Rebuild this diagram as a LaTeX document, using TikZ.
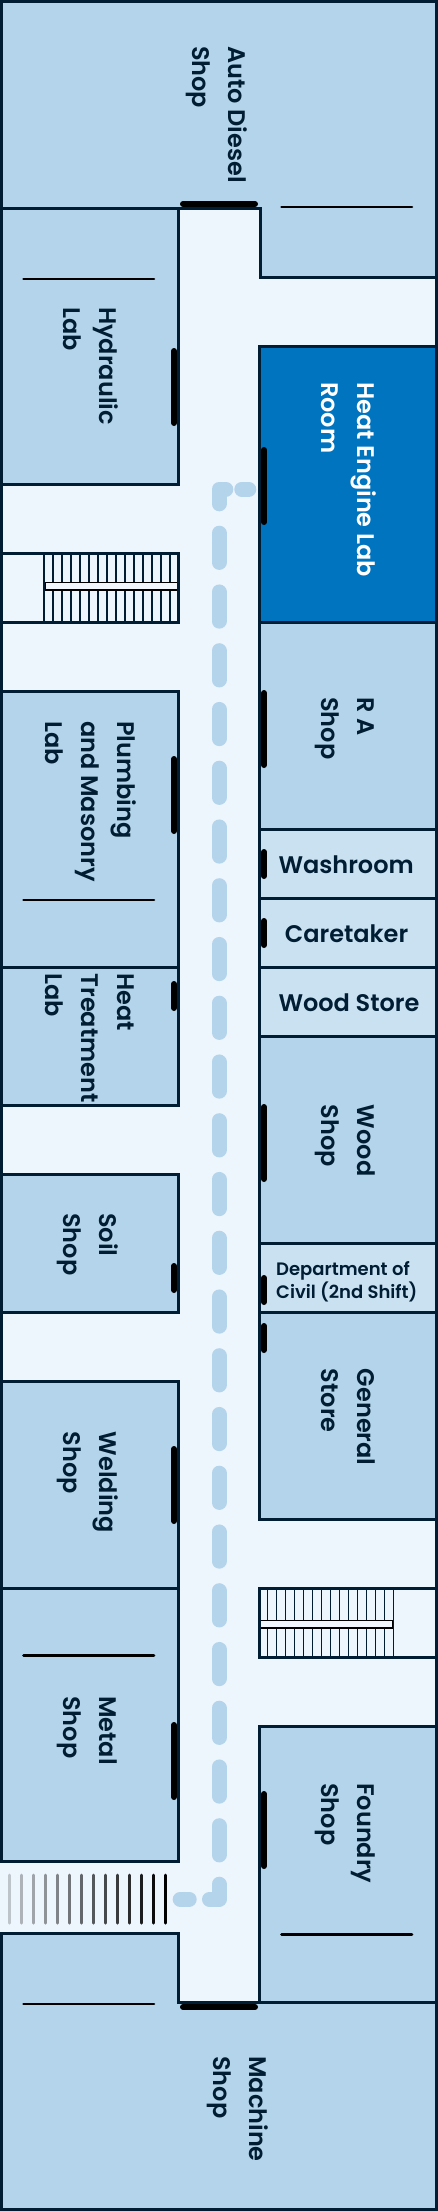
\documentclass[tikz,border=0pt]{standalone}
\usepackage{fontspec}
\setmainfont{Poppins}[UprightFont=* SemiBold]
\definecolor{room}{HTML}{B3D4EA}
\definecolor{lightroom}{HTML}{CAE1F1}
\definecolor{hall}{HTML}{EDF5FD}
\definecolor{hot}{HTML}{0074BF}
\definecolor{ink}{HTML}{001D33}
\newcommand{\fl}{\rule{0pt}{20pt}}
\newcommand{\fs}{\rule{0pt}{14pt}}
\tikzset{
  x=1pt,y=-1pt,
  wall/.style={draw=ink,line width=3pt,miter limit=10},
  doorline/.style={line width=6pt,line cap=round,draw=black},
  bar/.style={line width=2.6pt,line cap=round,draw=black},
  route/.style={line width=15pt,line cap=round,line join=round,draw=room},
  vlabel/.style={rotate=-90,anchor=north west,inner sep=0pt,align=left,text=ink,font=\fontsize{24}{36}\selectfont},
  hlabel/.style={anchor=base west,inner sep=0pt,text=ink,font=\fontsize{24}{36}\selectfont},
  tread/.style={draw=ink,line width=1.2pt},
  landing/.style={draw=black,line width=1.3pt,fill=hall!80!white},
}
\begin{document}
\begin{tikzpicture}
\useasboundingbox (0,0) rectangle (438,2211);
\fill[hall] (0,0) rectangle (438,2211);
% rooms
\fill[room] (0,0) rectangle (438,208.3);
\fill[room] (260.7,208) rectangle (438,277);
\fill[room] (0,208.3) rectangle (178.7,484.3);
\fill[hot] (259.3,346.7) rectangle (438,622.3);
\fill[room] (259.3,622.3) rectangle (438,829.3);
\fill[lightroom] (259.3,829.3) rectangle (438,1036.3);
\fill[room] (259.3,1036.3) rectangle (438,1243.3);
\fill[lightroom] (259.3,1243.3) rectangle (438,1312.3);
\fill[room] (259.3,1312.3) rectangle (438,1519.3);
\fill[room] (259.3,1726.3) rectangle (438,2002.3);
\fill[room] (0,691.3) rectangle (178.7,1105.3);
\fill[room] (0,1174.3) rectangle (178.7,1312.3);
\fill[room] (0,1381.3) rectangle (178.7,1861.3);
\fill[room] (0,1933.3) rectangle (178.7,2211);
\fill[room] (178.7,2002.3) rectangle (438,2211);
% route
\foreach \k in {0,...,22}{
  \draw[route] (219,{533.2+58.75*\k}) -- ++(0,29.2);
}
\draw[route] (225.8,489.2) -- (219,489.2) -- (219,503.8);
\draw[route] (241.8,489.2) -- (248.8,489.2);
\draw[route] (219,1884.2) -- (219,1899.2) -- (209.5,1899.2);
\draw[route] (180.2,1899.2) -- (189.2,1899.2);
% stairs
\foreach \k in {0,...,14}{
  \draw[tread] ({44+9*\k},553.3) -- ({44+9*\k},622.3);
  \draw[tread] ({267.5+9*\k},1588.3) -- ({267.5+9*\k},1657.3);
}
\draw[landing] (45.6,582.7) rectangle (178.8,590);
\draw[landing] (259,1620.7) rectangle (392.4,1628);
% entrance
\foreach \k/\o in {0/0.2,1/0.27,2/0.33,3/0.4,4/0.46,5/0.52,6/0.58,7/0.64,8/0.7,9/0.76,10/0.82,11/0.88,12/0.95,13/1}{
  \draw[line width=3pt,line cap=round,draw=black,draw opacity=\o] ({9+12*\k},1875) -- ({9+12*\k},1923);
}
% walls
\draw[wall] (1.5,1861.3) -- (1.5,1.5) -- (436.5,1.5) -- (436.5,2209.5) -- (1.5,2209.5) -- (1.5,1933.3);
\draw[wall] (0,208.3) -- (178.7,208.3) -- (178.7,484.3) -- (0,484.3);
\draw[wall] (178.7,208.3) -- (260.7,208.3) -- (260.7,277) -- (438,277);
\draw[wall] (438,346.7) -- (259.3,346.7) -- (259.3,1519.3) -- (438,1519.3);
\foreach \y in {622.3,829.3,898.3,967.3,1036.3,1243.3,1312.3}{\draw[wall] (259.3,\y) -- (438,\y);}
\draw[wall] (438,1588.3) -- (259.3,1588.3) -- (259.3,1657.3) -- (438,1657.3);
\draw[wall] (438,1726.3) -- (259.3,1726.3) -- (259.3,2002.3) -- (178.7,2002.3) -- (178.7,1933.3) -- (0,1933.3);
\draw[wall] (259.3,2002.3) -- (438,2002.3);
\draw[wall] (0,553.3) -- (178.7,553.3) -- (178.7,622.3) -- (0,622.3);
\draw[wall] (0,691.3) -- (178.7,691.3) -- (178.7,1105.3) -- (0,1105.3);
\draw[wall] (0,967.3) -- (178.7,967.3);
\draw[wall] (0,1174.3) -- (178.7,1174.3) -- (178.7,1312.3) -- (0,1312.3);
\draw[wall] (0,1381.3) -- (178.7,1381.3) -- (178.7,1861.3) -- (0,1861.3);
\draw[wall] (0,1588.3) -- (178.7,1588.3);
% doors
\draw[doorline] (183,204) -- (255,204);
\draw[doorline] (183,2007) -- (255,2007);
\foreach \a/\b in {351/423,759/831,984/1008,1266/1290,1449/1521,1725/1797}{\draw[doorline] (174,\a) -- (174,\b);}
\foreach \a/\b in {450/522,693/765,852/876,921/945,1107/1179,1278/1302,1326/1350,1794/1866}{\draw[doorline] (264,\a) -- (264,\b);}
% inner bars
\draw[bar] (281.5,207) -- (412,207);
\draw[bar] (23.5,279) -- (154,279);
\draw[bar] (23.5,900) -- (154,900);
\draw[bar] (23.5,1655.7) -- (154,1655.7);
\draw[bar] (281.5,1934.7) -- (412,1934.7);
\draw[bar] (23.5,2004) -- (154,2004);
% labels
\node[vlabel] (auto) at (248.2,46) {\fl Auto Diesel\\\fl Shop};
\node[vlabel] (hyd) at (119.2,307) {\fl Hydraulic\\\fl Lab};
\node[vlabel,text=white] (heat) at (377.5,382) {\fl Heat Engine Lab\\\fl Room};
\node[vlabel] (ra) at (377.5,697) {\fl R A\\\fl Shop};
\node[vlabel] (plumb) at (137.2,721) {\fl Plumbing\\\fl and Masonry\\\fl Lab};
\node[vlabel] (treat) at (137.2,973.3) {\fl Heat\\\fl Treatment\\\fl Lab};
\node[vlabel] (wood) at (377.5,1104.7) {\fl Wood\\\fl Shop};
\node[vlabel] (soil) at (119.2,1213) {\fl Soil\\\fl Shop};
\node[vlabel] (gen) at (377.5,1368.7) {\fl General\\\fl Store};
\node[vlabel] (weld) at (119.2,1431.7) {\fl Welding\\\fl Shop};
\node[vlabel] (metal) at (119.2,1696) {\fl Metal\\\fl Shop};
\node[vlabel] (found) at (377.5,1783) {\fl Foundry\\\fl Shop};
\node[vlabel] (mach) at (269.2,2056) {\fl Machine\\\fl Shop};
\node[hlabel] (wash) at (278.3,873.5) {Washroom};
\node[hlabel] (care) at (284.7,942.5) {Caretaker};
\node[hlabel] (store) at (278.3,1011.5) {Wood Store};
\node[anchor=north west,inner sep=0pt,align=left,text=ink,font=\fontsize{18}{17.6}\selectfont] (dept) at (276,1261.7) {\fs Department of\\\fs Civil (2nd Shift)};
\end{tikzpicture}
\end{document}
